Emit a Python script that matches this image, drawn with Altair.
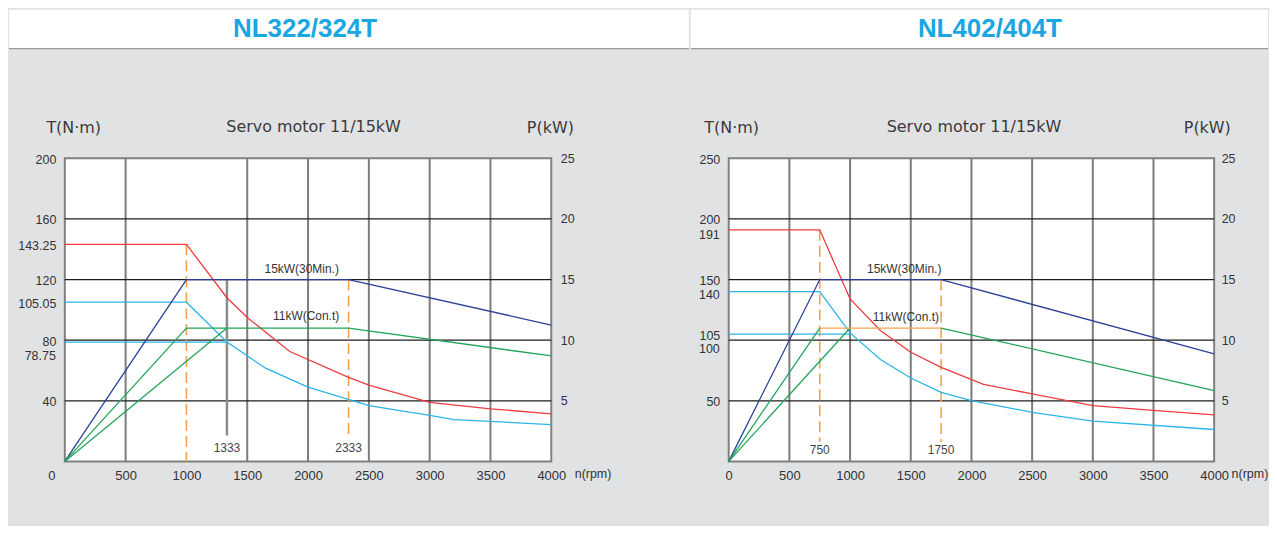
import altair as alt
import pandas as pd

TITLES = ["NL322/324T", "NL402/404T"]
SUBTITLE = "Servo motor 11/15kW"
X_TICKS = [0, 500, 1000, 1500, 2000, 2500, 3000, 3500, 4000]
P_TICKS = [5, 10, 15, 20, 25]

# ---------------- NL322/324T ----------------
L_RED_N = [0, 1000, 1333, 1500, 1850, 2333, 2500, 3000, 3500, 4000]
L_RED_T = [143.25, 143.25, 108, 95, 72.5, 55.5, 50.4, 39, 34.7, 31.4]
L_CYAN_N = [0, 1000, 1333, 1650, 2000, 2500, 3000, 3200, 4000]
L_CYAN_T = [105.05, 105.05, 78.75, 61.5, 49, 36.8, 30.3, 27.6, 24.3]
L_CYAN2_N = [0, 1333]
L_CYAN2_T = [78.75, 78.75]
L_NAVY_N = [0, 1000, 2333, 4000]
L_NAVY_P = [0, 15, 15, 11.25]
L_GREEN_N = [0, 1000, 2333, 4000]
L_GREEN_P = [0, 11, 11, 8.7]
L_GREEN2_N = [0, 1333]
L_GREEN2_P = [0, 11]
L_T_TICKS = [40, 80, 105.05, 120, 143.25, 160, 200]
L_T_SPECIAL = [78.75]
L_T_SPECIAL_DY = [13]
L_GRID_N = [500, 1500, 2000, 2500, 3000, 3500]
L_GRID_T = [40, 80, 120, 160]
L_DASH_N = [1000, 2333]
L_DASH_TOP = [143.25, 120]
L_DASH_BOT = [0, 17]
L_GRAY_N = [1333]
L_GRAY_TOP = [120]
L_GRAY_BOT = [17]
L_MARK_N = [1333, 2333]
L_MARK_T = [9, 9]
L_NOTE_TXT = ["15kW(30Min.)", "11kW(Con.t)"]
L_NOTE_N = [1948, 1984]
L_NOTE_T = [126.8, 96]

# ---------------- NL402/404T ----------------
R_RED_N = [0, 750, 1000, 1250, 1500, 1750, 2100, 2500, 3000, 3500, 4000]
R_RED_T = [191, 191, 134, 108, 90, 77.5, 63.5, 55.7, 46, 42, 38.4]
R_CYAN_N = [0, 750, 1000, 1250, 1500, 1750, 2000, 2500, 3000, 4000]
R_CYAN_T = [140, 140, 106, 84, 68.8, 57, 50.2, 40.5, 33.2, 26.3]
R_CYAN2_N = [0, 1000]
R_CYAN2_T = [105, 105]
R_NAVY_N = [0, 750, 1750, 4000]
R_NAVY_P = [0, 15, 15, 8.86]
R_GREEN_N = [0, 750]
R_GREEN_P = [0, 11]
R_GREEN2_N = [0, 1000]
R_GREEN2_P = [0, 11]
R_GREEN3_N = [1750, 4000]
R_GREEN3_P = [11, 5.84]
R_ORANGE_N = [750, 1750]
R_ORANGE_P = [11, 11]
R_T_TICKS = [50, 105, 150, 200, 250]
R_T_SPECIAL = [191, 140, 100]
R_T_SPECIAL_DY = [4.5, 2.5, 7.5]
R_GRID_N = [500, 1000, 1500, 2000, 2500, 3000, 3500]
R_GRID_T = [50, 100, 150, 200]
R_DASH_N = [750, 1750]
R_DASH_TOP = [191, 150]
R_DASH_BOT = [16, 16]
R_MARK_N = [750, 1750]
R_MARK_T = [9, 9.5]
R_NOTE_TXT = ["15kW(30Min.)", "11kW(Con.t)"]
R_NOTE_N = [1446, 1460]
R_NOTE_T = [158.5, 118.7]

COLOR_KEYS = ["red", "cyan", "navy", "green", "orange"]
COLOR_VALS = ["#ef3b3f", "#2bb4ea", "#2d3f98", "#22a459", "#f5a553"]

FONT = "Liberation Sans"
HFONT = "DejaVu Sans"
TXT = "#333333"
HTXT = "#3a3a3a"
LFS = 12.5
PLOT_H = 304
HEAD_TOP = -149      # top of the white header band, relative to the plot top
HEAD_BOT = -110      # bottom of the white header band
CAPTION_Y = -26      # baseline of the caption row (T, subtitle, P)


def series_df(items):
    rows = []
    for sid, key, ns, vs in items:
        for i, (n, v) in enumerate(zip(ns, vs)):
            rows.append({"id": sid, "s": key, "n": n, "v": v, "o": i})
    return pd.DataFrame(rows)


def panel(cfg):
    w = cfg["width"]
    xs = alt.Scale(domain=[0, 4000], nice=False, zero=False)
    ts = alt.Scale(domain=[0, cfg["tmax"]], nice=False)
    ps = alt.Scale(domain=[0, 25], nice=False)
    axX = alt.Axis(values=cfg["xticks"], title="n(rpm)", titleX=w + cfg["ntitle_dx"], titleY=12,
                   titleAngle=0, titleAlign="left", titleBaseline="middle", titleFont=FONT,
                   titleFontSize=12.5, titleFontWeight="normal", titleColor=TXT,
                   labelFont=FONT, labelFontSize=13, labelColor=TXT, labelPadding=8,
                   ticks=False, domain=False, grid=False, labelFlush=False, labelOverlap=False,
                   labelExpr="'' + datum.value")
    axT = alt.Axis(values=cfg["tticks"], orient="left", title="T(N·m)", titleX=cfg["ttitle_x"],
                   titleY=CAPTION_Y, titleAngle=0, titleAlign="left", titleBaseline="alphabetic",
                   titleFont=HFONT, titleFontSize=16, titleFontWeight="normal", titleColor=HTXT,
                   labelFont=FONT, labelFontSize=LFS, labelColor=TXT, labelPadding=9, labelOffset=1,
                   minExtent=cfg["minext"], ticks=False, domain=False, grid=False, labelOverlap=False,
                   labelExpr="'' + datum.value")
    axP = alt.Axis(values=P_TICKS, orient="right", title="P(kW)", titleX=cfg["ptitle_x"],
                   titleY=CAPTION_Y, titleAngle=0, titleAlign="left", titleBaseline="alphabetic",
                   titleFont=HFONT, titleFontSize=16, titleFontWeight="normal", titleColor=HTXT,
                   labelFont=FONT, labelFontSize=LFS, labelColor=TXT, labelPadding=cfg["ppad"],
                   ticks=False, domain=False, grid=False, labelOverlap=False)

    X = lambda f: alt.X(f, type="quantitative", scale=xs, axis=axX)
    YT = lambda f: alt.Y(f, type="quantitative", scale=ts, axis=axT)
    color = alt.Color("s:N", scale=alt.Scale(domain=COLOR_KEYS, range=COLOR_VALS), legend=None)

    layers = []
    # white header band with model title, and its grey bottom edge
    layers.append(alt.Chart(pd.DataFrame({"a": [0]})).mark_rect(color="white").encode(
        x=alt.value(cfg["band_x"]), x2=alt.value(cfg["band_x2"]),
        y=alt.value(HEAD_TOP), y2=alt.value(HEAD_BOT)))
    layers.append(alt.Chart(pd.DataFrame({"a": [0]})).mark_rect(color="#9a9a9a").encode(
        x=alt.value(cfg["band_x"]), x2=alt.value(cfg["band_x2"]),
        y=alt.value(HEAD_BOT - 0.6), y2=alt.value(HEAD_BOT + 0.6)))
    layers.append(alt.Chart(pd.DataFrame({"t": [cfg["title"]]})).mark_text(
        font=FONT, fontSize=26, fontWeight="bold", color="#1aa6e2", baseline="middle", align="center"
    ).encode(text="t:N", x=alt.value(cfg["title_x"]), y=alt.value(HEAD_TOP + 19)))
    layers.append(alt.Chart(pd.DataFrame({"t": [SUBTITLE]})).mark_text(
        font=HFONT, fontSize=16, color=HTXT, baseline="alphabetic", align="center"
    ).encode(text="t:N", x=alt.value(cfg["sub_x"]), y=alt.value(CAPTION_Y)))
    # grid
    layers.append(alt.Chart(pd.DataFrame({"n": cfg["grid_n"]})).mark_rule(
        color="#7c7c7c", strokeWidth=2).encode(x=X("n")))
    layers.append(alt.Chart(pd.DataFrame({"t": cfg["grid_t"]})).mark_rule(
        color="#1c1c1c", strokeWidth=1.3).encode(y=YT("t")))
    if cfg.get("gray_n"):
        layers.append(alt.Chart(pd.DataFrame({"n": cfg["gray_n"], "a": cfg["gray_top"], "b": cfg["gray_bot"]}))
                      .mark_rule(color="#8c8c8c", strokeWidth=2.5)
                      .encode(x=X("n"), y=YT("a"), y2="b:Q"))
    layers.append(alt.Chart(pd.DataFrame({"n": cfg["dash_n"], "a": cfg["dash_top"], "b": cfg["dash_bot"]}))
                  .mark_rule(color="#f7a24a", strokeWidth=1.6, strokeDash=[11, 5])
                  .encode(x=X("n"), y=YT("a"), y2="b:Q"))
    layers.append(alt.Chart(series_df(cfg["torque"])).mark_line(strokeWidth=1.3)
                  .encode(x=X("n"), y=YT("v"), color=color, detail="id:N", order="o:Q"))
    layers.append(alt.Chart(pd.DataFrame({"n": cfg["mark_n"], "t": cfg["mark_t"],
                                          "lab": [str(v) for v in cfg["mark_n"]]}))
                  .mark_text(font=FONT, fontSize=12, color="#444444", baseline="middle")
                  .encode(x=X("n"), y=YT("t"), text="lab:N"))
    layers.append(alt.Chart(pd.DataFrame({"n": cfg["note_n"], "t": cfg["note_t"], "lab": cfg["note_txt"]}))
                  .mark_text(font=FONT, fontSize=12, color="#333333", baseline="middle")
                  .encode(x=X("n"), y=YT("t"), text="lab:N"))
    for val, dy in zip(cfg["tspecial"], cfg["tspecial_dy"]):
        layers.append(alt.Chart(pd.DataFrame({"n": [0], "t": [val], "lab": [str(val)]}))
                      .mark_text(font=FONT, fontSize=LFS, color=TXT, align="right", baseline="middle",
                                 dx=-9, dy=dy + 1)
                      .encode(x=X("n"), y=YT("t"), text="lab:N"))
    if cfg.get("origin_dx") is not None:
        layers.append(alt.Chart(pd.DataFrame({"n": [0], "t": [0], "lab": ["0"]}))
                      .mark_text(font=FONT, fontSize=13, color=TXT, align="center", baseline="middle",
                                 dx=cfg["origin_dx"], dy=15)
                      .encode(x=X("n"), y=YT("t"), text="lab:N"))
    torque_group = alt.layer(*layers)

    power_group = alt.Chart(series_df(cfg["power"])).mark_line(strokeWidth=1.3).encode(
        x=X("n"), y=alt.Y("v", type="quantitative", scale=ps, axis=axP),
        color=color, detail="id:N", order="o:Q")

    return alt.layer(torque_group, power_group).resolve_scale(y="independent").properties(
        width=w, height=PLOT_H)


left_cfg = dict(
    title=TITLES[0], title_x=241, sub_x=249.5, band_x=-56, band_x2=626,
    width=488, tmax=200, xticks=X_TICKS[1:], tticks=L_T_TICKS, tspecial=L_T_SPECIAL,
    tspecial_dy=L_T_SPECIAL_DY, grid_n=L_GRID_N, grid_t=L_GRID_T,
    gray_n=L_GRAY_N, gray_top=L_GRAY_TOP, gray_bot=L_GRAY_BOT,
    dash_n=L_DASH_N, dash_top=L_DASH_TOP, dash_bot=L_DASH_BOT,
    mark_n=L_MARK_N, mark_t=L_MARK_T, note_n=L_NOTE_N, note_t=L_NOTE_T, note_txt=L_NOTE_TXT,
    torque=[("r", "red", L_RED_N, L_RED_T), ("c", "cyan", L_CYAN_N, L_CYAN_T),
            ("c2", "cyan", L_CYAN2_N, L_CYAN2_T)],
    power=[("nv", "navy", L_NAVY_N, L_NAVY_P), ("g", "green", L_GREEN_N, L_GREEN_P),
           ("g2", "green", L_GREEN2_N, L_GREEN2_P)],
    origin_dx=-13, ntitle_dx=23, ttitle_x=-19, ptitle_x=-25, ppad=9, minext=56,
)

right_cfg = dict(
    title=TITLES[1], title_x=262, sub_x=246, band_x=-38, band_x2=541,
    width=487, tmax=250, xticks=X_TICKS, tticks=R_T_TICKS, tspecial=R_T_SPECIAL,
    tspecial_dy=R_T_SPECIAL_DY, grid_n=R_GRID_N, grid_t=R_GRID_T,
    dash_n=R_DASH_N, dash_top=R_DASH_TOP, dash_bot=R_DASH_BOT,
    mark_n=R_MARK_N, mark_t=R_MARK_T, note_n=R_NOTE_N, note_t=R_NOTE_T, note_txt=R_NOTE_TXT,
    torque=[("r", "red", R_RED_N, R_RED_T), ("c", "cyan", R_CYAN_N, R_CYAN_T),
            ("c2", "cyan", R_CYAN2_N, R_CYAN2_T)],
    power=[("nv", "navy", R_NAVY_N, R_NAVY_P), ("g", "green", R_GREEN_N, R_GREEN_P),
           ("g2", "green", R_GREEN2_N, R_GREEN2_P), ("g3", "green", R_GREEN3_N, R_GREEN3_P),
           ("o", "orange", R_ORANGE_N, R_ORANGE_P)],
    origin_dx=None, ntitle_dx=17, ttitle_x=-25, ptitle_x=-31, ppad=7, minext=30,
)

chart = alt.hconcat(panel(left_cfg), panel(right_cfg), spacing=0).properties(
    background="#e1e2e4", padding={"left": 0, "top": 0, "right": 0, "bottom": 41}
).configure_view(stroke="#808080", strokeWidth=2, fill="white")

chart.save("out.html", embed_options={"renderer": "svg", "actions": False})
